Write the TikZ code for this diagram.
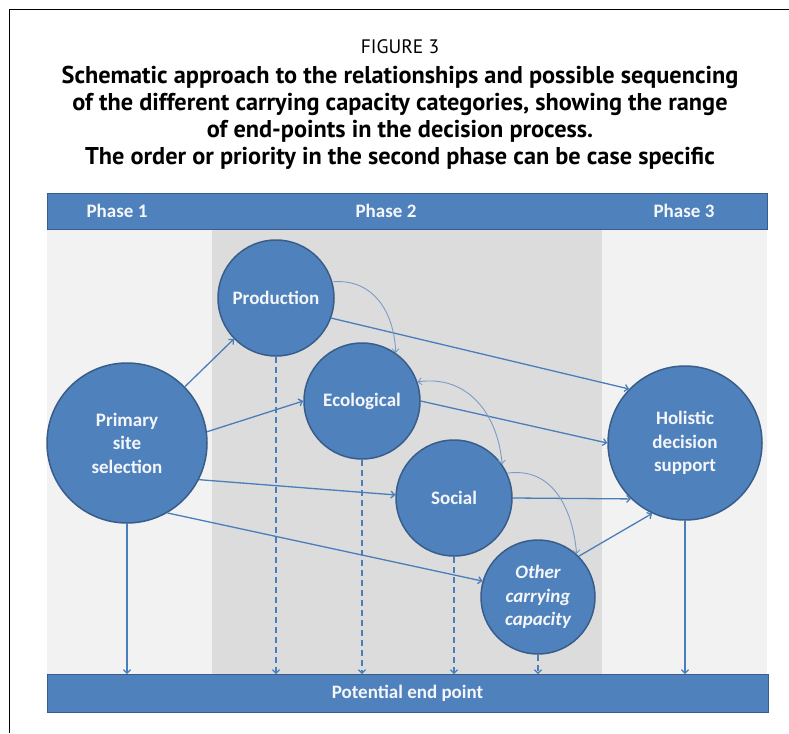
\documentclass[tikz,border=0pt]{standalone}
\usepackage{fontspec}
\setmainfont{Carlito}
\newfontfamily\titlefont{PT Sans}
\usetikzlibrary{arrows.meta}
\definecolor{cblue}{HTML}{4F81BD}
\definecolor{cborder}{HTML}{385D8A}
\definecolor{lineblue}{HTML}{4A7EBB}
\definecolor{curveblue}{HTML}{7A9CC6}
\definecolor{pone}{HTML}{F2F2F2}
\definecolor{ptwo}{HTML}{DCDCDC}
\definecolor{ltext}{HTML}{F4F6FA}
\begin{document}
\begin{tikzpicture}[x=1pt,y=-1pt,
  circ/.style={circle, fill=cblue, draw=cborder, line width=1.5pt, text=ltext,
    inner sep=0pt, align=center, font=\fontsize{19}{23.5}\selectfont\bfseries},
  bar/.style={rectangle, fill=cblue, draw=cborder, line width=0.8pt, inner sep=0pt},
  conn/.style={draw=lineblue, line width=1.3pt, -{Straight Barb[length=3.5pt,width=7pt]}},
  dconn/.style={conn, dash pattern=on 6pt off 4pt},
  curv/.style={draw=curveblue, line width=0.9pt, -{Straight Barb[length=3.5pt,width=7pt]}},
  curvb/.style={draw=curveblue, line width=0.9pt, {Straight Barb[length=3.5pt,width=7pt]}-{Straight Barb[length=3.5pt,width=7pt]}},
  phase/.style={text=ltext, font=\fontsize{19}{20}\selectfont\bfseries},
  ttl/.style={font=\titlefont\fontsize{24.3}{27}\selectfont\bfseries}
]
\useasboundingbox (0,0) rectangle (789,733);
\fill[white] (0,0) rectangle (789,733);
% frame
\draw[black, line width=1.2pt] (9.5,733) -- (9.5,9.5) -- (789,9.5);
% title
\node (t0) at (400,47) {\titlefont\fontsize{19.5}{24}\selectfont FIGURE 3};
\node[ttl] (t1) at (400,77) {Schematic approach to the relationships and possible sequencing};
\node[ttl] (t2) at (400,104) {of the different carrying capacity categories, showing the range};
\node[ttl] (t3) at (400,131) {of end-points in the decision process.};
\node[ttl] (t4) at (400,158) {The order or priority in the second phase can be case specific};
% panels
\fill[pone] (47,229) rectangle (212,675);
\fill[ptwo] (212,229) rectangle (602,675);
\fill[pone] (602,229) rectangle (767,675);
% header bar
\node[bar, minimum width=720pt, minimum height=36pt] (head) at (407,211) {};
\node[phase] (ph1) at (117,211) {Phase 1};
\node[phase] (ph2) at (386,211) {Phase 2};
\node[phase] (ph3) at (684,211) {Phase 3};
% bottom bar
\node[bar, minimum width=721pt, minimum height=38pt, text=ltext, font=\fontsize{19}{20}\selectfont\bfseries] (end) at (407.5,693.5) {Potential end point};
% circles
\node[circ, minimum size=160pt] (prim) at (127,443) {Primary\\site\\selection};
\node[circ, minimum size=116pt] (prod) at (276,298) {Production};
\node[circ, minimum size=116pt] (eco) at (362,401) {Ecological};
\node[circ, minimum size=116pt] (soc) at (454,498) {Social};
\node[circ, minimum size=114pt] (oth) at (538,597) {\itshape Other\\\itshape carrying\\\itshape capacity};
\node[circ, minimum size=154pt] (hol) at (685,443) {Holistic\\decision\\support};
% connectors from primary
\draw[conn] (prim) -- (prod);
\draw[conn] (prim.8) -- (eco.180);
\draw[conn] (prim.-27) -- (soc.177);
\draw[conn] (prim.-60) -- (oth.164);
\draw[conn] (prim.south) -- (prim.south |- end.north);
% to holistic
\draw[conn] (prod.-20) -- (hol.136);
\draw[conn] (eco.east) -- (hol.west);
\draw[conn] (soc.east) -- (hol.-134);
\draw[conn] (oth.45) -- (hol.-115);
\draw[conn] (hol.south) -- (hol.south |- end.north);
% dashed to end point
\draw[dconn] (prod.south) -- (prod.south |- end.north);
\draw[dconn] (eco.south) -- (eco.south |- end.north);
\draw[dconn] (soc.south) -- (soc.south |- end.north);
\draw[dconn] (oth.south) -- (oth.south |- end.north);
% curved
\draw[curv] (prod.16) to[out=5, in=92, looseness=1.1] (eco.55);
\draw[curvb] (eco.19) to[out=8, in=95, looseness=1.1] (soc.35);
\draw[curv] (soc.25) to[out=8, in=95, looseness=1.1] (oth.48);
\end{tikzpicture}
\end{document}
